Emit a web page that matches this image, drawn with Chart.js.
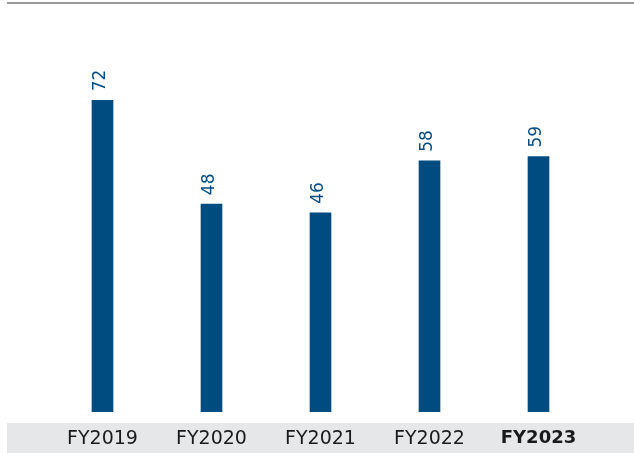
<!DOCTYPE html>
<html>
<head>
<meta charset="utf-8">
<script src="https://cdn.jsdelivr.net/npm/chart.js@4/dist/chart.umd.min.js"></script>
<style>
  html, body { margin: 0; padding: 0; background: #fff; }
  #wrap { width: 634px; height: 453px; }
</style>
</head>
<body>
<div id="wrap"><canvas id="chart" width="634" height="453"></canvas></div>
<script>
const years = ["FY2019", "FY2020", "FY2021", "FY2022", "FY2023"];
const values = [72, 48, 46, 58, 59];
const yMax = 94;

const barColor = "#004b80";
const fontName = "'DejaVu Sans', Verdana, sans-serif";

// gray band under the axis and thin rule on top
const backdrop = {
  id: "backdrop",
  beforeDraw(chart) {
    const ctx = chart.ctx;
    ctx.save();
    ctx.fillStyle = "#e6e7e8";
    ctx.fillRect(7, 423, chart.width - 7, chart.height - 423);
    ctx.fillStyle = "#9a9a9a";
    ctx.fillRect(7, 2, chart.width - 7, 2);
    ctx.restore();
  }
};

// rotated value labels above each bar
const valueLabels = {
  id: "valueLabels",
  afterDatasetsDraw(chart) {
    const ctx = chart.ctx;
    const meta = chart.getDatasetMeta(0);
    ctx.save();
    ctx.fillStyle = barColor;
    ctx.font = "17px " + fontName;
    ctx.textAlign = "left";
    ctx.textBaseline = "alphabetic";
    meta.data.forEach((bar, i) => {
      ctx.save();
      ctx.translate(bar.x + 2, bar.y - 9);
      ctx.rotate(-Math.PI / 2);
      ctx.fillText(String(values[i]), 0, 0);
      ctx.restore();
    });
    ctx.restore();
  }
};

new Chart(document.getElementById("chart").getContext("2d"), {
  type: "bar",
  data: {
    labels: years,
    datasets: [{
      data: values,
      backgroundColor: barColor,
      barThickness: 21
    }]
  },
  options: {
    responsive: false,
    animation: false,
    layout: { padding: { left: 48, right: 41, top: 5, bottom: 2 } },
    plugins: { legend: { display: false }, tooltip: { enabled: false } },
    scales: {
      x: {
        grid: { display: false, drawTicks: false },
        border: { display: false },
        afterFit: (scale) => { scale.height = 39; },
        ticks: {
          padding: 16,
          color: "#1a1a1a",
          font: (c) => ({
            family: fontName,
            size: c.index === 4 ? 18 : 19,
            weight: c.index === 4 ? "bold" : "normal",
            lineHeight: 1.2
          })
        }
      },
      y: {
        display: false,
        min: 0,
        max: yMax
      }
    }
  },
  plugins: [backdrop, valueLabels]
});
</script>
</body>
</html>
